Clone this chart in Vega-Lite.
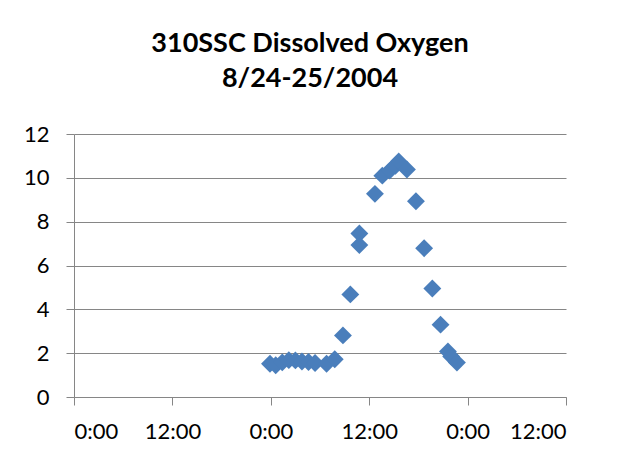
{
  "$schema": "https://vega.github.io/schema/vega-lite/v6.json",
  "width": 492,
  "height": 263,
  "autosize": {"type": "none"},
  "padding": {"left": 74, "top": 134, "right": 57, "bottom": 65},
  "background": "white",
  "title": {
    "text": ["310SSC Dissolved Oxygen", "8/24-25/2004"],
    "font": "Lato",
    "fontSize": 27,
    "fontWeight": "bold",
    "color": "black",
    "lineHeight": 35,
    "anchor": "middle",
    "baseline": "alphabetic",
    "offset": 9,
    "dx": -10
  },
  "config": {
    "view": {"stroke": null},
    "axis": {
      "labelFont": "Lato",
      "labelFontSize": 22,
      "labelColor": "black",
      "domainColor": "#868686",
      "tickColor": "#868686",
      "gridColor": "#868686",
      "tickSize": 8,
      "domainWidth": 1,
      "tickWidth": 1,
      "gridWidth": 1
    }
  },
  "data": {
    "values": [
      {"hour": 23.9, "do": 1.52},
      {"hour": 24.6, "do": 1.45},
      {"hour": 25.4, "do": 1.58},
      {"hour": 26.2, "do": 1.68},
      {"hour": 27.0, "do": 1.67},
      {"hour": 27.8, "do": 1.62},
      {"hour": 28.6, "do": 1.6},
      {"hour": 29.4, "do": 1.55},
      {"hour": 30.8, "do": 1.52},
      {"hour": 31.8, "do": 1.72},
      {"hour": 32.8, "do": 2.81},
      {"hour": 33.7, "do": 4.68},
      {"hour": 34.8, "do": 6.93},
      {"hour": 34.8, "do": 7.46},
      {"hour": 36.7, "do": 9.27},
      {"hour": 37.6, "do": 10.1},
      {"hour": 38.5, "do": 10.33},
      {"hour": 39.2, "do": 10.55},
      {"hour": 39.6, "do": 10.75},
      {"hour": 40.6, "do": 10.38},
      {"hour": 41.7, "do": 8.93},
      {"hour": 42.7, "do": 6.79},
      {"hour": 43.7, "do": 4.95},
      {"hour": 44.7, "do": 3.3},
      {"hour": 45.6, "do": 2.08},
      {"hour": 46.0, "do": 1.85},
      {"hour": 46.7, "do": 1.57}
    ]
  },
  "mark": {"type": "point", "shape": "diamond", "filled": true, "size": 320, "color": "#4A7EBB", "opacity": 1},
  "encoding": {
    "x": {
      "field": "hour",
      "type": "quantitative",
      "scale": {"domain": [0, 60], "nice": false, "zero": false},
      "axis": {
        "title": null,
        "values": [0, 12, 24, 36, 48, 60],
        "grid": false,
        "labelPadding": 16,
        "labelExpr": "datum.value % 24 == 0 ? '0:00' : '12:00'"
      }
    },
    "y": {
      "field": "do",
      "type": "quantitative",
      "scale": {"domain": [0, 12], "nice": false},
      "axis": {
        "title": null,
        "values": [0, 2, 4, 6, 8, 10, 12],
        "grid": true,
        "labelPadding": 17
      }
    }
  }
}
